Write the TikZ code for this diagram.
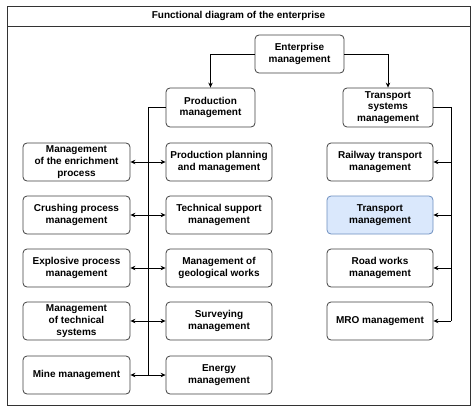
\documentclass[tikz,border=0pt]{standalone}
\usepackage{fontspec}
\setmainfont{Liberation Sans}
\usetikzlibrary{arrows.meta}
\definecolor{bluefill}{HTML}{DAE8FC}
\definecolor{blueline}{HTML}{6C8EBF}
\begin{document}
\begin{tikzpicture}[x=1pt,y=-1pt,
 box/.style={draw=black!75, fill=white, rounded corners=4pt, line width=0.8pt, align=center,
   font=\bfseries\fontsize{10}{11.8}\selectfont, inner sep=0pt, minimum height=38pt},
 lbox/.style={box, minimum width=107pt},
 mbox/.style={box, minimum width=106pt},
 rbox/.style={box, minimum width=106pt},
 conn/.style={line width=0.9pt, -{Stealth[length=5pt,width=4.5pt]}},
 dconn/.style={line width=0.9pt, {Stealth[length=5pt,width=4.5pt]}-{Stealth[length=5pt,width=4.5pt]}},
 bus/.style={line width=0.9pt}]
\useasboundingbox (0,0) rectangle (474,412);
% frame
\draw[line width=0.9pt, black!80] (7,6) rectangle (470,405);
\draw[line width=0.9pt, black!80] (7,26) -- (470,26);
\node[font=\bfseries\fontsize{10}{12}\selectfont] (title) at (238.5,16) {Functional diagram of the enterprise};
% top
\node[box, minimum width=89pt] (ent) at (299.5,54) {Enterprise\\management};
\node[box, minimum width=89pt, minimum height=39pt] (prod) at (210.5,107.5) {Production\\management};
\node[box, minimum width=90pt, minimum height=39pt] (tsm) at (388,107.5) {Transport\\systems\\management};
\draw[conn] (ent.west) -| (prod.north);
\draw[conn] (ent.east) -| (tsm.north);
% left and middle columns
\node[lbox] (l1) at (76.5,162) {Management\\of the enrichment\\process};
\node[lbox] (l2) at (76.5,215) {Crushing process\\management};
\node[lbox] (l3) at (76.5,268) {Explosive process\\management};
\node[lbox] (l4) at (76.5,321) {Management\\of technical\\systems};
\node[lbox] (l5) at (76.5,375) {Mine management};
\node[mbox] (m1) at (219,162) {Production planning\\and management};
\node[mbox] (m2) at (219,215) {Technical support\\management};
\node[mbox] (m3) at (219,268) {Management of\\geological works};
\node[mbox] (m4) at (219,321) {Surveying\\management};
\node[mbox] (m5) at (219,375) {Energy\\management};
\coordinate (pbt) at (148,107.5);
\coordinate (pbb) at (148,375);
\draw[bus] (prod.west) -- (pbt) -- (pbb);
\foreach \i in {1,...,5}{\draw[dconn] (l\i.east) -- (m\i.west);}
% right column
\node[rbox] (r1) at (380,162) {Railway transport\\management};
\node[rbox, fill=bluefill, draw=blueline] (r2) at (380,215) {Transport\\management};
\node[rbox] (r3) at (380,268) {Road works\\management};
\node[rbox] (r4) at (380,321) {MRO management};
\coordinate (tbt) at (451,107.5);
\coordinate (tbb) at (451,321);
\draw[bus] (tsm.east) -- (tbt) -- (tbb);
\foreach \i/\y in {1/162,2/215,3/268}{\coordinate (t\i) at (451,\y); \draw[conn] (t\i) -- (r\i.east);}
\draw[conn] (tbb) -- (r4.east);
\end{tikzpicture}
\end{document}
